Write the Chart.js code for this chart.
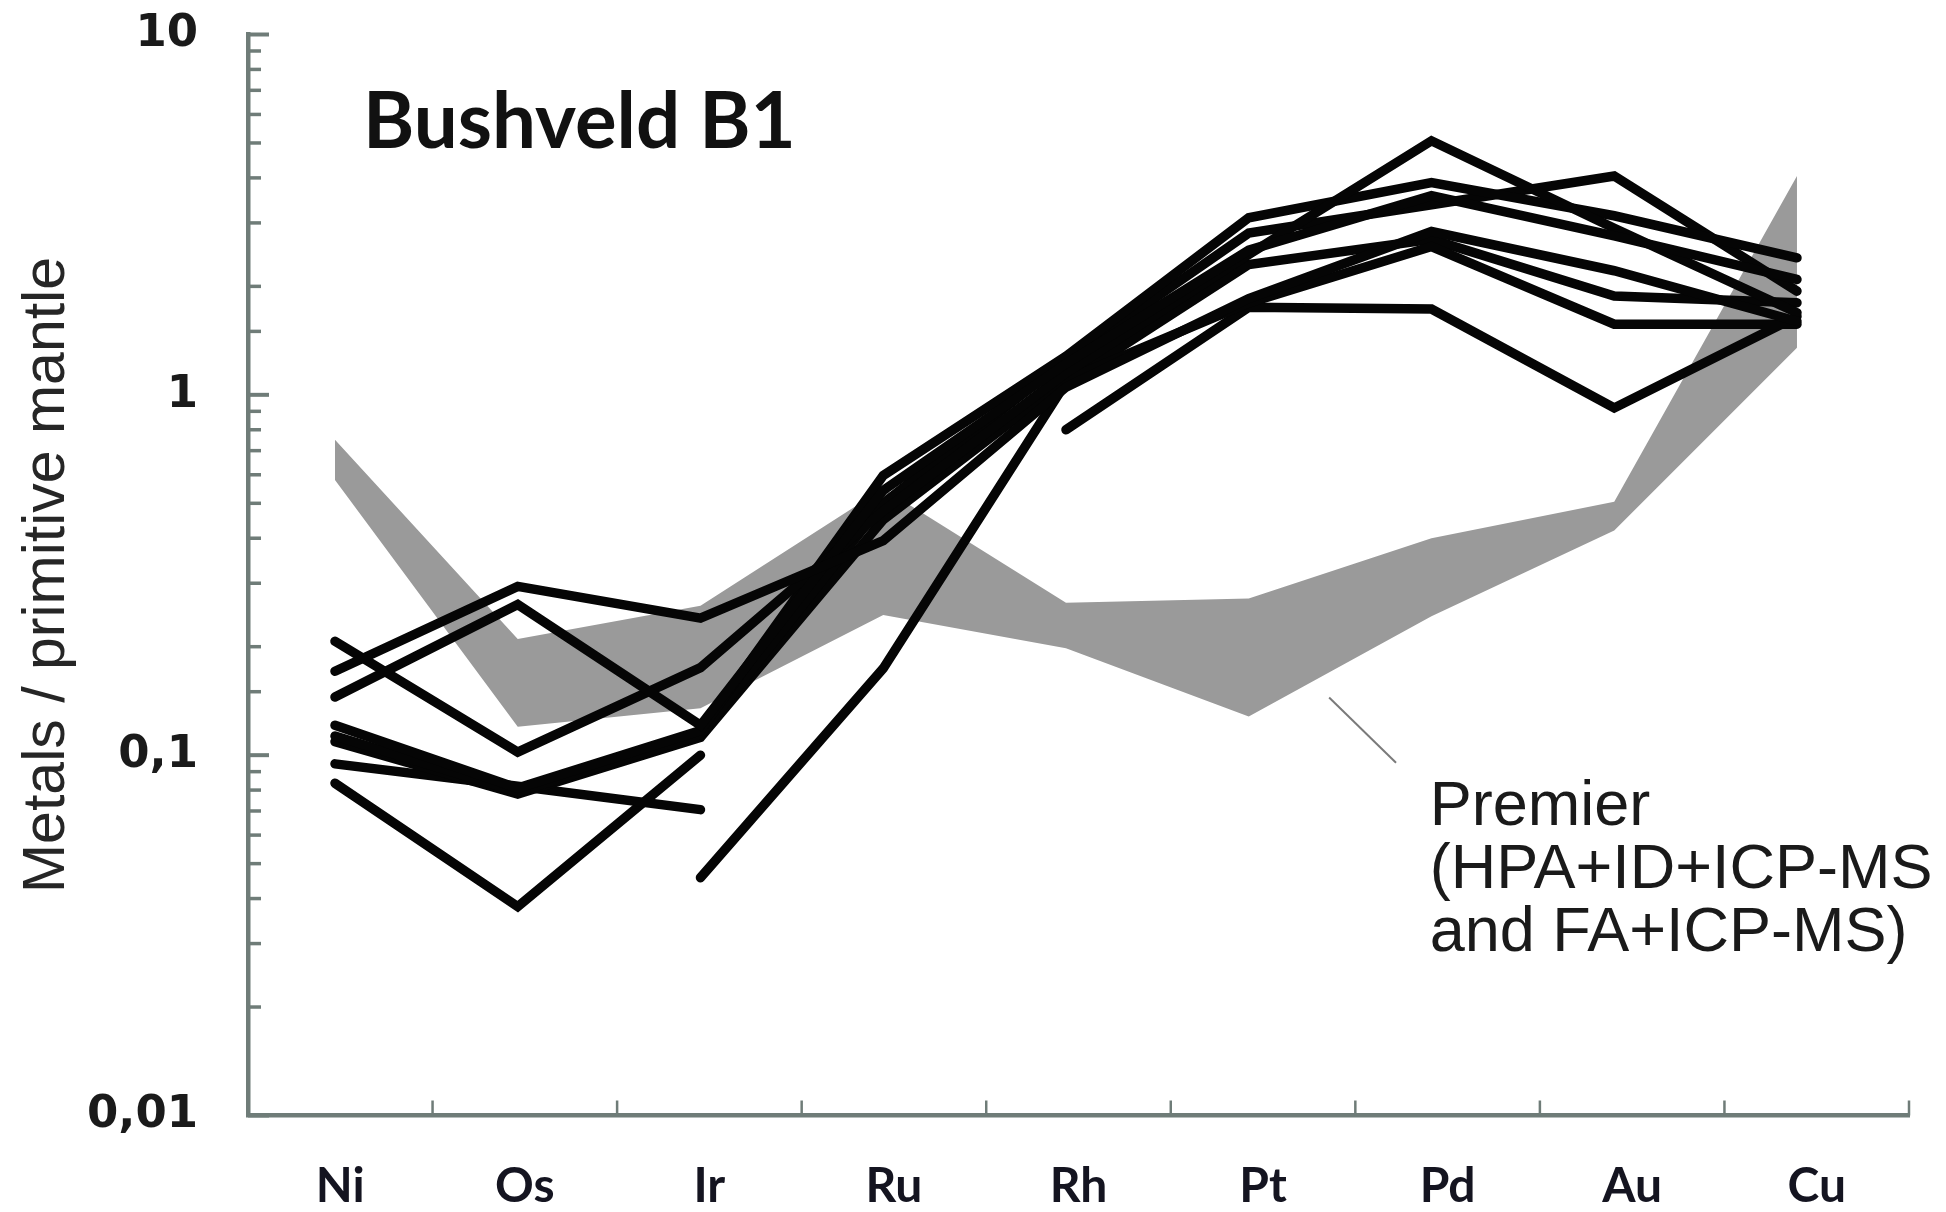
<!DOCTYPE html>
<html>
<head>
<meta charset="utf-8">
<title>Bushveld B1</title>
<script src="https://cdn.jsdelivr.net/npm/chart.js@4.4.1/dist/chart.umd.min.js"></script>
<style>
  html, body { margin: 0; padding: 0; background: #ffffff; }
  #wrap { width: 1946px; height: 1212px; position: relative; }
</style>
</head>
<body>
<div id="wrap"><canvas id="chart"></canvas></div>
<script>
// Metals normalised to primitive mantle, Bushveld B1 samples
const metals = ['Ni', 'Os', 'Ir', 'Ru', 'Rh', 'Pt', 'Pd', 'Au', 'Cu'];

// Premier field (grey envelope): upper and lower bounds
const premierUpper = [0.75, 0.21, 0.26, 0.55, 0.265, 0.272, 0.40, 0.505, 4.05];
const premierLower = [0.58, 0.12, 0.135, 0.245, 0.198, 0.128, 0.243, 0.42, 1.35];

// Individual B1 sample profiles (null = not determined)
const sample1  = [0.171, 0.294, 0.240, 0.394, 1.05, 1.85, 2.84, 2.21, 1.60];
const sample2  = [0.145, 0.262, 0.121, 0.543, 1.22, 2.52, 3.57, 2.76, 2.09];
const sample3  = [0.207, 0.102, 0.175, 0.476, 1.15, 2.45, 5.07, 2.90, 1.69];
const sample4  = [0.121, 0.081, 0.117, 0.597, 1.28, 3.10, 3.88, 3.14, 2.40];
const sample5  = [0.113, 0.079, 0.114, 0.500, 1.25, 2.81, 3.37, 4.05, 1.94];
const sample6  = [0.109, 0.078, 0.112, 0.450, 1.10, 1.80, 2.58, 1.57, 1.57];
const sample7  = [0.0946, 0.082, 0.0706, null, null, null, null, null, null];
const sample8  = [0.0836, 0.038, 0.100, null, null, null, null, null, null];
const sample9  = [null, null, 0.0457, 0.174, 1.08, 2.30, 2.70, 1.88, 1.80];
const sample10 = [null, null, null, null, 0.80, 1.75, 1.73, 0.92, 1.65];

const samples = [sample1, sample2, sample3, sample4, sample5, sample6, sample7, sample8, sample9, sample10];

// y-axis decades that carry a label
const decadeLabels = { '10': '10', '1': '1', '0.1': '0,1', '0.01': '0,01' };

// Label for the grey field
const premierText = ['Premier', '(HPA+ID+ICP-MS', 'and FA+ICP-MS)'];

const axisColor = '#6f7c78';
const lineColor = '#050505';
const fieldColor = '#9a9a9a';

const toPoints = arr => arr.map((v, i) => ({ x: i, y: v }));

function isDecade(v) {
  const l = Math.log10(v);
  return Math.abs(l - Math.round(l)) < 1e-6;
}

const lineDatasets = samples.map((s, k) => ({
  label: 'B1-' + (k + 1),
  data: toPoints(s),
  borderColor: lineColor,
  borderWidth: 9.5,
  borderCapStyle: 'round',
  borderJoinStyle: 'miter',
  pointRadius: 0,
  tension: 0,
  spanGaps: false,
  fill: false,
  order: 0
}));

const fieldDatasets = [
  {
    label: 'Premier upper',
    data: toPoints(premierUpper),
    borderWidth: 0,
    borderColor: 'rgba(0,0,0,0)',
    backgroundColor: fieldColor,
    pointRadius: 0,
    tension: 0,
    fill: '+1',
    order: 1
  },
  {
    label: 'Premier lower',
    data: toPoints(premierLower),
    borderWidth: 0,
    borderColor: 'rgba(0,0,0,0)',
    backgroundColor: fieldColor,
    pointRadius: 0,
    tension: 0,
    fill: false,
    order: 1
  }
];

// Tick marks drawn on the inner side of both axes, the panel title and the field label
const decorations = {
  id: 'decorations',
  afterDraw(chart) {
    const { ctx, chartArea } = chart;
    const ys = chart.scales.y;
    const xs = chart.scales.x;
    const xl = chart.scales.xLabels;
    ctx.save();

    // y-axis: long ticks at decades, short ticks in between
    ctx.strokeStyle = axisColor;
    ctx.lineCap = 'butt';
    ys.ticks.forEach(t => {
      const py = ys.getPixelForValue(t.value);
      const major = isDecade(t.value);
      ctx.lineWidth = major ? 4 : 3.5;
      ctx.beginPath();
      ctx.moveTo(chartArea.left, py);
      ctx.lineTo(chartArea.left + (major ? 21 : 13), py);
      ctx.stroke();
    });

    // x-axis: ticks at the category boundaries
    ctx.lineWidth = 2.5;
    for (let k = 1; k <= metals.length; k++) {
      const px = xl.getPixelForValue(k - 0.5);
      ctx.beginPath();
      ctx.moveTo(px, chartArea.bottom);
      ctx.lineTo(px, chartArea.bottom - 15);
      ctx.stroke();
    }

    // panel title
    ctx.fillStyle = '#111111';
    ctx.font = 'bold 78px Lato, "Open Sans", sans-serif';
    ctx.textAlign = 'left';
    ctx.textBaseline = 'alphabetic';
    ctx.fillText('Bushveld B1', chartArea.left + 115, chartArea.top + 113);

    // leader line from the grey field to its label
    ctx.strokeStyle = '#7a7a7a';
    ctx.lineWidth = 2;
    ctx.beginPath();
    ctx.moveTo(xs.getPixelForValue(5.44), ys.getPixelForValue(0.1445));
    ctx.lineTo(xs.getPixelForValue(5.806), ys.getPixelForValue(0.0953));
    ctx.stroke();

    // field label
    ctx.fillStyle = '#1a1a1a';
    ctx.font = '63px "Liberation Sans", Arial, sans-serif';
    const tx = xs.getPixelForValue(5.99);
    const ty = ys.getPixelForValue(0.0641);
    premierText.forEach((line, i) => {
      ctx.fillText(line, tx, ty + i * 63);
    });

    ctx.restore();
  }
};

new Chart(document.getElementById('chart'), {
  type: 'line',
  data: { datasets: [...lineDatasets, ...fieldDatasets] },
  options: {
    responsive: true,
    maintainAspectRatio: false,
    animation: false,
    devicePixelRatio: 1,
    layout: { padding: { left: 18, top: 34.5, right: 37, bottom: 0 } },
    plugins: {
      legend: { display: false },
      tooltip: { enabled: false },
      title: { display: false }
    },
    scales: {
      x: {
        type: 'linear',
        display: false,
        min: -0.476,
        max: 8.613
      },
      xLabels: {
        type: 'category',
        position: 'bottom',
        labels: metals,
        offset: true,
        grid: { display: true, drawOnChartArea: false, drawTicks: true, tickLength: 42, tickColor: 'rgba(0,0,0,0)' },
        border: { display: true, color: axisColor, width: 4.5 },
        ticks: {
          color: '#141420',
          padding: 0,
          font: { family: 'Lato', size: 48, weight: 'bold' },
          autoSkip: false,
          maxRotation: 0
        },
        afterFit(scale) { scale.height = 96.5; }
      },
      y: {
        type: 'logarithmic',
        position: 'left',
        min: 0.01,
        max: 10,
        grid: { display: true, drawOnChartArea: false, drawTicks: true, tickLength: 50, tickColor: 'rgba(0,0,0,0)' },
        border: { display: true, color: axisColor, width: 4.5 },
        ticks: {
          autoSkip: false,
          padding: 0,
          color: '#1a1a1a',
          font: { family: 'DejaVu Sans', size: 45, weight: 'bold' },
          callback(value) {
            if (!isDecade(value)) return '';
            const key = String(Number(value.toPrecision(6)));
            return decadeLabels[key] !== undefined ? decadeLabels[key] : '';
          }
        },
        title: {
          display: true,
          text: 'Metals / primitive mantle',
          color: '#262626',
          font: { family: 'Liberation Sans', size: 59, lineHeight: 1 },
          padding: { top: 0, bottom: 0 }
        },
        afterFit(scale) { scale.width = 230; }
      }
    }
  },
  plugins: [decorations]
});
</script>
</body>
</html>
